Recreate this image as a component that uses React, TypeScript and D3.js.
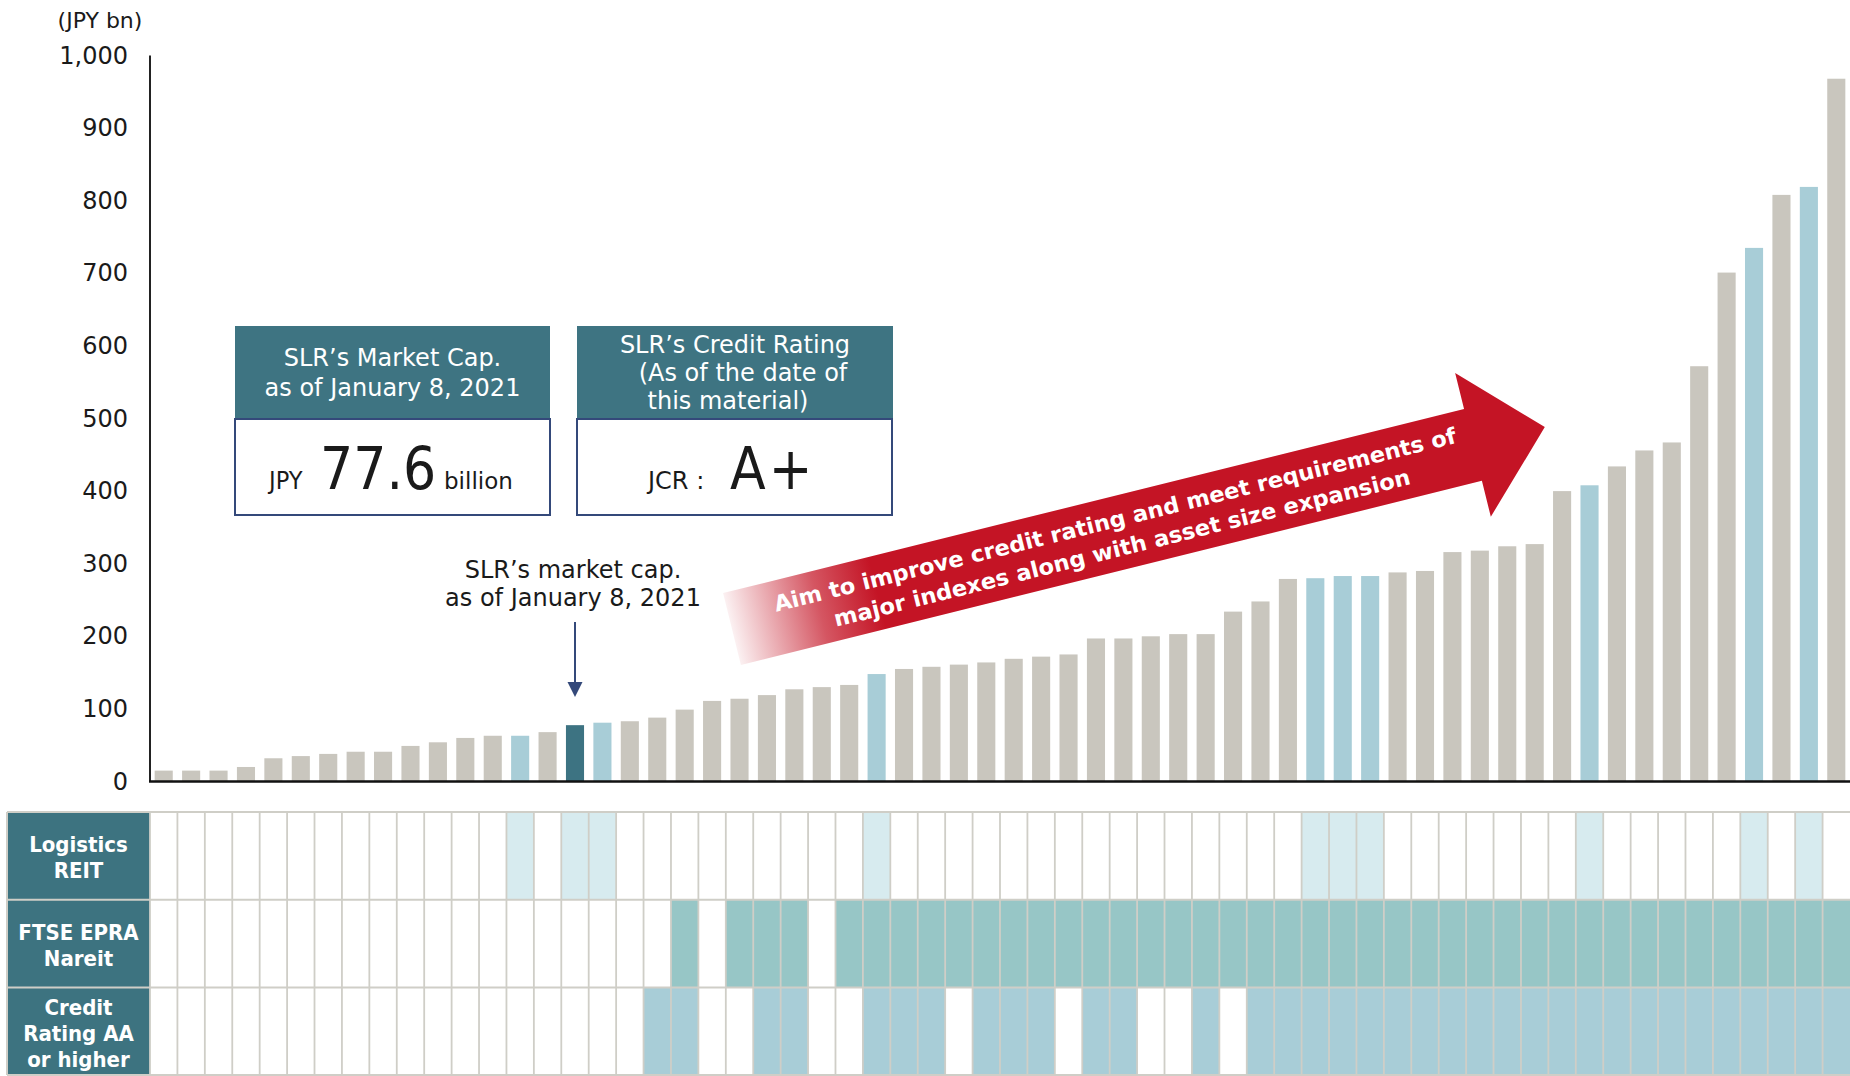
import React from "react";
import * as d3 from "d3";

// ---------- data ----------
const marketCap: number[] = [
  15, 15, 15, 20, 32, 35, 38, 41, 41, 49,
  54, 60, 63, 63, 68, 77.6, 81, 83, 88, 99,
  111, 114, 119, 127, 130, 133, 148, 155, 158, 161,
  164, 169, 172, 175, 197, 197, 200, 203, 203, 234,
  248, 279, 280, 283, 283, 288, 290, 316, 318, 324,
  327, 400, 408, 434, 456, 467, 572, 701, 735, 808,
  819, 968,
];
const logisticsFlag: number[] = [
  0, 0, 0, 0, 0, 0, 0, 0, 0, 0,
  0, 0, 0, 1, 0, 1, 1, 0, 0, 0,
  0, 0, 0, 0, 0, 0, 1, 0, 0, 0,
  0, 0, 0, 0, 0, 0, 0, 0, 0, 0,
  0, 0, 1, 1, 1, 0, 0, 0, 0, 0,
  0, 0, 1, 0, 0, 0, 0, 0, 1, 0,
  1, 0,
];
const ftseFlag: number[] = [
  0, 0, 0, 0, 0, 0, 0, 0, 0, 0,
  0, 0, 0, 0, 0, 0, 0, 0, 0, 1,
  0, 1, 1, 1, 0, 1, 1, 1, 1, 1,
  1, 1, 1, 1, 1, 1, 1, 1, 1, 1,
  1, 1, 1, 1, 1, 1, 1, 1, 1, 1,
  1, 1, 1, 1, 1, 1, 1, 1, 1, 1,
  1, 1,
];
const creditFlag: number[] = [
  0, 0, 0, 0, 0, 0, 0, 0, 0, 0,
  0, 0, 0, 0, 0, 0, 0, 0, 1, 1,
  0, 0, 1, 1, 0, 0, 1, 1, 1, 0,
  1, 1, 1, 0, 1, 1, 0, 0, 1, 0,
  1, 1, 1, 1, 1, 1, 1, 1, 1, 1,
  1, 1, 1, 1, 1, 1, 1, 1, 1, 1,
  1, 1,
];
const slrIndex = 15;
const yTicks: number[] = [0, 100, 200, 300, 400, 500, 600, 700, 800, 900, 1000];
const rowLabels: string[][] = [
  ["Logistics", "REIT"],
  ["FTSE EPRA", "Nareit"],
  ["Credit", "Rating AA", "or higher"],
];
const unitLabel = "(JPY bn)";
const box1Header = ["SLR\u2019s Market Cap.", "as of January 8, 2021"];
const box2Header = ["SLR\u2019s Credit Rating", "(As of the date of", "this material)"];
const annotationLines = ["SLR\u2019s market cap.", "as of January 8, 2021"];
const arrowLines = [
  "Aim to improve credit rating and meet requirements of",
  "major indexes along with asset size expansion",
];

// ---------- style ----------
const W = 1850;
const H = 1076;
const FONT_COND = '"DejaVu Sans Condensed", "DejaVu Sans", sans-serif';
const FONT = '"DejaVu Sans", sans-serif';
const C = {
  grey: "#C9C6BE",
  logi: "#A8CDD7",
  slr: "#3D7382",
  teal: "#3E7482",
  label: "#3D7380",
  rowFill: ["#D7EBEF", "#97C6C6", "#A8CDD7"],
  grid: "#CFCEC7",
  navy: "#34497A",
  red: "#C41425",
  text: "#1a1a1a",
};

export default function App() {
  const idx = marketCap.map((_, i) => i);
  const x = d3.scaleBand<number>().domain(idx).range([150, 1850]).paddingInner(0.34).paddingOuter(0.17);
  const cell = d3.scaleBand<number>().domain(idx).range([150, 1850]).padding(0);
  const y = d3.scaleLinear().domain([0, 1000]).range([781.5, 55.5]);
  const fmt = d3.format(",");

  const rowTop = [812, 899.7, 987.4];
  const rowH = 87.7;
  const flags = [logisticsFlag, ftseFlag, creditFlag];

  // red arrow geometry (local coords)
  const shaftLen = 763.5;
  const half = 37;
  const headLen = 74;
  const arrowPath = `M0,${-half} L${shaftLen},${-half} L${shaftLen},${-2 * half} L${shaftLen + headLen},0 L${shaftLen},${2 * half} L${shaftLen},${half} L0,${half} Z`;

  const slrX = (x(slrIndex) as number) + x.bandwidth() / 2;
  const box2Dx = [0, 8, -7];

  return (
    <div style={{ position: "absolute", left: 0, top: 0, width: W, height: H, background: "#fff" }}>
      <svg width={W} height={H} style={{ display: "block" }}>
        <defs>
          <linearGradient id="fade" gradientUnits="userSpaceOnUse" x1={0} y1={0} x2={150} y2={0}>
            <stop offset="0" stopColor={C.red} stopOpacity={0.06} />
            <stop offset="0.6" stopColor={C.red} stopOpacity={0.72} />
            <stop offset="1" stopColor={C.red} stopOpacity={1} />
          </linearGradient>
        </defs>

        {/* unit label */}
        <text x={100} y={20} textAnchor="middle" dominantBaseline="central" fontFamily={FONT} fontSize={22} fill={C.text}>
          {unitLabel}
        </text>

        {/* y tick labels */}
        {yTicks.map((t) => (
          <text key={t} x={128} y={y(t)} textAnchor="end" dominantBaseline="central" fontFamily={FONT} fontSize={24} fill={C.text}>
            {fmt(t)}
          </text>
        ))}

        {/* bars */}
        {marketCap.map((v, i) => (
          <rect
            key={i}
            x={x(i)}
            y={y(v)}
            width={x.bandwidth()}
            height={y(0) - y(v)}
            fill={i === slrIndex ? C.slr : logisticsFlag[i] ? C.logi : C.grey}
          />
        ))}

        {/* axes */}
        <line x1={150} x2={150} y1={y(1000)} y2={y(0)} stroke="#222" strokeWidth={2} />
        <line x1={149} x2={1850} y1={y(0)} y2={y(0)} stroke="#111" strokeWidth={2.5} />

        {/* info box 1 */}
        <rect x={235} y={326} width={315} height={93} fill={C.teal} />
        <rect x={235} y={419} width={315} height={96} fill="#fff" stroke={C.navy} strokeWidth={2} />
        {box1Header.map((s, k) => (
          <text key={k} x={392.5} y={357.5 + k * 30.5} textAnchor="middle" dominantBaseline="central" fontFamily={FONT} fontSize={24} fill="#fff">
            {s}
          </text>
        ))}
        <text x={269} y={489} fontFamily={FONT_COND} fontSize={25} fill={C.text}>JPY</text>
        <text x={320} y={489} fontFamily={FONT_COND} fontSize={58} fill={C.text}>77.6</text>
        <text x={444} y={489} fontFamily={FONT} fontSize={23} fill={C.text}>billion</text>

        {/* info box 2 */}
        <rect x={577} y={326} width={316} height={93} fill={C.teal} />
        <rect x={577} y={419} width={315} height={96} fill="#fff" stroke={C.navy} strokeWidth={2} />
        {box2Header.map((s, k) => (
          <text key={k} x={735 + box2Dx[k]} y={344.5 + k * 28.3} textAnchor="middle" dominantBaseline="central" fontFamily={FONT} fontSize={24} fill="#fff">
            {s}
          </text>
        ))}
        <text x={648} y={489} fontFamily={FONT} fontSize={24} fill={C.text}>JCR :</text>
        <text x={730} y={489} fontFamily={FONT_COND} fontSize={58} fill={C.text} letterSpacing={3}>A+</text>

        {/* annotation */}
        {annotationLines.map((s, k) => (
          <text key={k} x={slrX - 2} y={570 + k * 28} textAnchor="middle" dominantBaseline="central" fontFamily={FONT} fontSize={24} fill={C.text}>
            {s}
          </text>
        ))}
        <line x1={slrX} x2={slrX} y1={622} y2={684} stroke={C.navy} strokeWidth={2} />
        <path d={`M${slrX - 7.5},682 L${slrX + 7.5},682 L${slrX},697 Z`} fill={C.navy} />

        {/* red arrow */}
        <g transform="translate(732,629) rotate(-13.95)">
          <path d={arrowPath} fill="url(#fade)" />
          {arrowLines.map((s, k) => (
            <text
              key={k}
              x={398}
              y={k === 0 ? -6 : 23}
              textAnchor="middle"
              fontFamily={FONT}
              fontWeight="bold"
              fontSize={22}
              fill="#fff"
              textLength={k === 0 ? 702 : 593}
              lengthAdjust="spacingAndGlyphs"
            >
              {s}
            </text>
          ))}
        </g>

        {/* table */}
        {rowTop.map((t, r) => (
          <g key={r}>
            <rect x={7} y={t} width={143} height={rowH} fill={C.label} />
            {idx.map((i) => (
              <rect key={i} x={cell(i)} y={t} width={cell.bandwidth()} height={rowH} fill={flags[r][i] ? C.rowFill[r] : "#fff"} />
            ))}
            {rowLabels[r].map((s, k) => (
              <text
                key={k}
                x={78.5}
                y={t + rowH / 2 - 13 * (rowLabels[r].length - 1) + 2 + k * 26}
                textAnchor="middle"
                dominantBaseline="central"
                fontFamily={FONT_COND}
                fontWeight="bold"
                fontSize={22}
                fill="#fff"
              >
                {s}
              </text>
            ))}
          </g>
        ))}
        {/* grid lines */}
        {idx.map((i) => (
          <line key={i} x1={cell(i)} x2={cell(i)} y1={812} y2={1075} stroke={C.grid} strokeWidth={1.8} />
        ))}
        {[...rowTop, 1075].map((t, k) => (
          <line key={k} x1={7} x2={1850} y1={t} y2={t} stroke={C.grid} strokeWidth={2} />
        ))}
        <line x1={7} x2={7} y1={812} y2={1075} stroke={C.grid} strokeWidth={2} />
      </svg>
    </div>
  );
}
